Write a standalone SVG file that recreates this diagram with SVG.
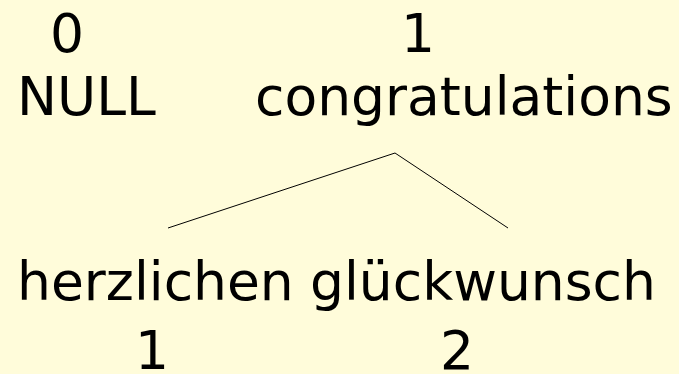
<svg xmlns="http://www.w3.org/2000/svg" width="679" height="374" viewBox="0 0 679 374">
  <style>
    .t { font-family: "DejaVu Sans", sans-serif; font-size: 53.5px; fill: #000; }
    .m { text-anchor: middle; }
    .edge { stroke: #000; stroke-width: 1; fill: none; }
  </style>
  <rect width="679" height="374" fill="#fffcda"/>
  <g id="connectors">
    <polyline class="edge" points="168,228 395,153 508,228"/>
  </g>
  <g id="node-null">
    <text class="t m" x="67" y="52">0</text>
    <text class="t" x="17" y="115">NULL</text>
  </g>
  <g id="node-congratulations">
    <text class="t m" x="418" y="52">1</text>
    <text class="t" x="255" y="115">congratulations</text>
  </g>
  <g id="node-herzlichen">
    <text class="t" x="17" y="300">herzlichen</text>
    <text class="t m" x="152" y="369">1</text>
  </g>
  <g id="node-glueckwunsch">
    <text class="t" x="310" y="300">glückwunsch</text>
    <text class="t m" x="457" y="369">2</text>
  </g>
</svg>
